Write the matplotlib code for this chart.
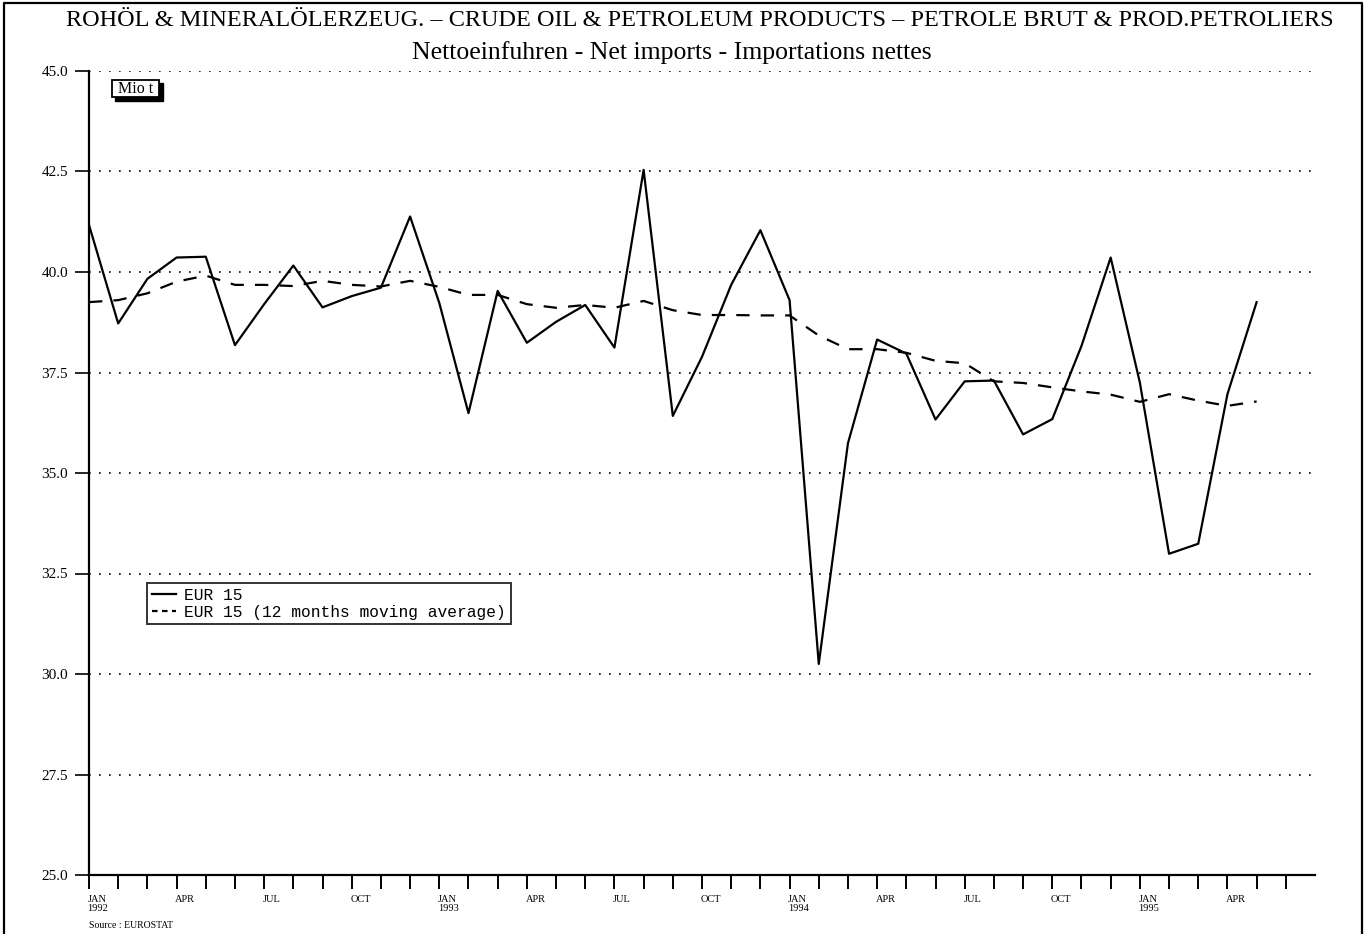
import numpy as np
import matplotlib
matplotlib.use('Agg')
import matplotlib.pyplot as plt
from matplotlib.lines import Line2D
from matplotlib.patches import Rectangle

# Monthly net imports, Mio t, JAN 1992 .. MAY 1995
eur15 = [41.17, 38.72, 39.83, 40.36, 40.38, 38.18, 39.20, 40.16, 39.12, 39.40,
         39.61, 41.38, 39.23, 36.49, 39.53, 38.24, 38.76, 39.18, 38.12, 42.54,
         36.42, 37.89, 39.68, 41.04, 39.30, 30.25, 35.74, 38.32, 37.97, 36.33,
         37.28, 37.30, 35.96, 36.34, 38.16, 40.36, 37.25, 32.99, 33.24, 36.96,
         39.25]
eur15_ma = [39.25, 39.30, 39.47, 39.76, 39.91, 39.68, 39.68, 39.65, 39.78, 39.68,
            39.64, 39.78, 39.63, 39.43, 39.43, 39.20, 39.11, 39.18, 39.11, 39.28,
            39.05, 38.93, 38.93, 38.92, 38.92, 38.42, 38.08, 38.08, 37.99, 37.79,
            37.73, 37.28, 37.24, 37.13, 37.03, 36.95, 36.77, 36.96, 36.80, 36.67,
            36.78]
month_names = ['JAN', 'APR', 'JUL', 'OCT']
years = [1992, 1993, 1994, 1995]
y_ticks = [25.0, 27.5, 30.0, 32.5, 35.0, 37.5, 40.0, 42.5, 45.0]

serif = 'Liberation Serif'
mono = 'Liberation Mono'
W, H = 1368, 934

fig = plt.figure(figsize=(W / 100, H / 100), dpi=100)
ax = fig.add_axes([89 / W, 1 - 875 / H, 1226 / W, 804 / H])

months = np.arange(len(eur15))
ax.plot(months, eur15, color='black', lw=1.6, label='EUR 15')
ax.plot(months, eur15_ma, color='black', lw=1.6, ls=(0, (6, 5)),
        label='EUR 15 (12 months moving average)')

ax.set_xlim(0, 42.0)
ax.set_ylim(25, 45)

# dotted grid
for v in y_ticks[1:]:
    ax.axhline(v, color='black', lw=1.2, ls=(0, (1, 5)), zorder=0)

ax.spines['top'].set_visible(False)
ax.spines['right'].set_visible(False)
ax.spines['left'].set_linewidth(1.6)
ax.spines['bottom'].set_linewidth(1.6)

ax.set_yticks(y_ticks)
ax.set_yticklabels(['%.1f' % v for v in y_ticks], fontfamily=serif, fontsize=11)
ax.tick_params(axis='y', direction='out', length=10, width=1.2, pad=5)

ax.set_xticks(np.arange(0, 42))
ax.set_xticklabels([])
ax.tick_params(axis='x', direction='out', length=10, width=1.4)

for i in range(0, 42, 3):
    txt = month_names[(i // 3) % 4]
    if i % 12 == 0:
        txt += '\n%d' % years[i // 12]
    ax.text(i - 0.05, 24.5, txt, ha='left', va='top', fontfamily=serif,
            fontsize=7.5, linespacing=1.0)

# "Mio t" unit box with drop shadow (pixel geometry)
def px_rect(x0, y0, x1, y1, **kw):
    return Rectangle((x0 / W, 1 - y1 / H), (x1 - x0) / W, (y1 - y0) / H,
                     transform=fig.transFigure, **kw)

fig.add_artist(px_rect(115, 83, 163, 101, fc='black', ec='black', lw=1))
fig.add_artist(px_rect(112, 80, 159, 97, fc='white', ec='black', lw=1.3))
fig.text(135.5 / W, 1 - 89 / H, 'Mio t', fontfamily=serif, fontsize=11.5,
         ha='center', va='center')

leg = ax.legend(loc='upper left', bbox_to_anchor=(58 / 1226, 1 - 512 / 804),
                prop={'family': mono, 'size': 11.7}, frameon=True, fancybox=False,
                handlelength=1.5, handletextpad=0.5, borderpad=0.3,
                labelspacing=0.1, borderaxespad=0)
leg.get_frame().set_edgecolor('black')
leg.get_frame().set_linewidth(1.4)
leg.legend_handles[1].set_linestyle((0, (2.5, 2)))

fig.text(700 / W, 1 - 26 / H,
         'ROHÖL & MINERALÖLERZEUG. – CRUDE OIL & PETROLEUM PRODUCTS – PETROLE BRUT & PROD.PETROLIERS',
         ha='center', va='baseline', fontfamily=serif, fontsize=17.5)
fig.text(672 / W, 1 - 59 / H, 'Nettoeinfuhren - Net imports - Importations nettes',
         ha='center', va='baseline', fontfamily=serif, fontsize=18.5)
fig.text(89 / W, 1 - 925 / H, 'Source : EUROSTAT', ha='left', va='center',
         fontfamily=serif, fontsize=7)

# page frame (left, top, right)
fx = [4 / W, 4 / W, 1362 / W, 1362 / W]
fy = [0, 1 - 3 / H, 1 - 3 / H, 0]
fig.add_artist(Line2D(fx, fy, transform=fig.transFigure, color='black', lw=1.6))

fig.savefig('out.png', dpi=100)
